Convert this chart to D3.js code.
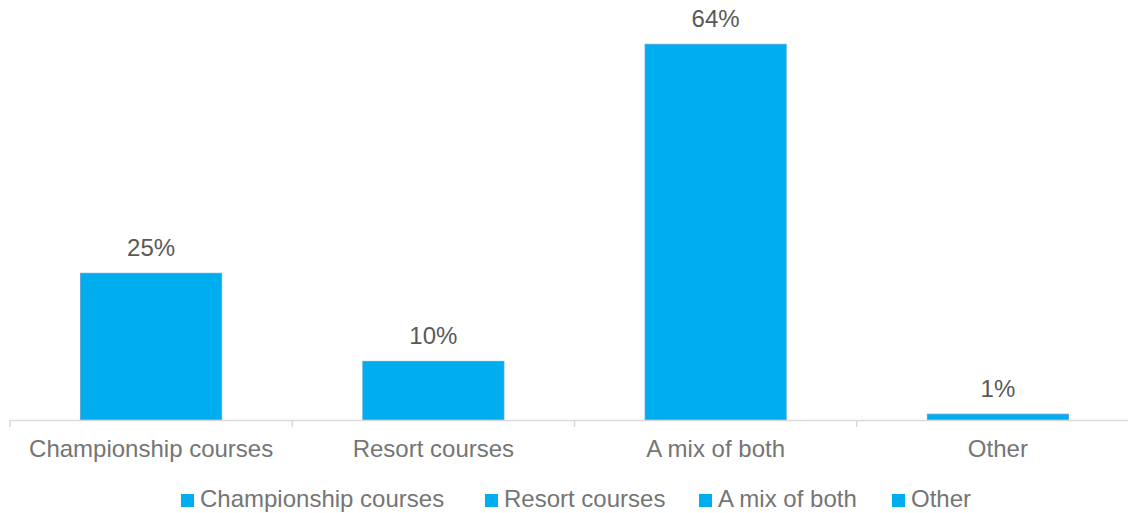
<!DOCTYPE html>
<html><head><meta charset="utf-8">
<script src="https://cdn.jsdelivr.net/npm/d3@7"></script>
<style>body{margin:0;background:#fff;} text{font-family:"Liberation Sans",Arial,sans-serif;}</style>
</head><body>
<svg id="chart" width="1128" height="513"></svg>
<script>
const categories = ["Championship courses", "Resort courses", "A mix of both", "Other"];
const values = [25, 10, 64, 1];
const labels = ["25%", "10%", "64%", "1%"];

(function () {
const svg = d3.select("#chart");
const leftX = 10, rightX = 1139, baseline = 420, topY = 9;
const x = d3.scaleBand().domain(categories).range([leftX, rightX]).paddingInner(0.5).paddingOuter(0.25);
const y = d3.scaleLinear().domain([0, 70]).range([baseline, topY]);
const color = "#00AEEF";

svg.selectAll("rect.bar").data(categories).join("rect")
  .attr("class", "bar")
  .attr("x", d => x(d)).attr("width", x.bandwidth())
  .attr("y", (d, i) => y(values[i])).attr("height", (d, i) => baseline - y(values[i]))
  .attr("fill", color).attr("stroke", "#4A9FD8").attr("stroke-width", 0.8);

svg.selectAll("text.val").data(categories).join("text")
  .attr("class", "val")
  .attr("x", d => x(d) + x.bandwidth() / 2)
  .attr("y", (d, i) => y(values[i]) - 17)
  .attr("text-anchor", "middle").attr("font-size", 24).attr("fill", "#595959")
  .text((d, i) => labels[i]);

const axis = svg.append("g").attr("transform", `translate(0,${baseline})`)
  .call(d3.axisBottom(x).tickSize(0).tickPadding(20));
axis.select(".domain").attr("stroke", "#D9D9D9").attr("stroke-width", 1.5);
axis.selectAll(".tick text").attr("font-size", 24).attr("fill", "#757575")
  .attr("font-family", "Liberation Sans, Arial, sans-serif");
const bounds = [0, 1, 2, 3, 4].map(i => leftX + i * x.step());
svg.selectAll("line.bt").data(bounds).join("line")
  .attr("class", "bt")
  .attr("x1", d => d).attr("x2", d => d).attr("y1", baseline).attr("y2", baseline + 7)
  .attr("stroke", "#D9D9D9").attr("stroke-width", 1.5);

const legendX = [181, 485, 699, 892];
const lg = svg.selectAll("g.lg").data(categories).join("g").attr("class", "lg")
  .attr("transform", (d, i) => `translate(${legendX[i]},494)`);
lg.append("rect").attr("width", 13).attr("height", 13).attr("fill", color);
lg.append("text").attr("x", 19).attr("y", 13).attr("font-size", 24).attr("fill", "#757575").text(d => d);
})();
</script>
</body></html>
